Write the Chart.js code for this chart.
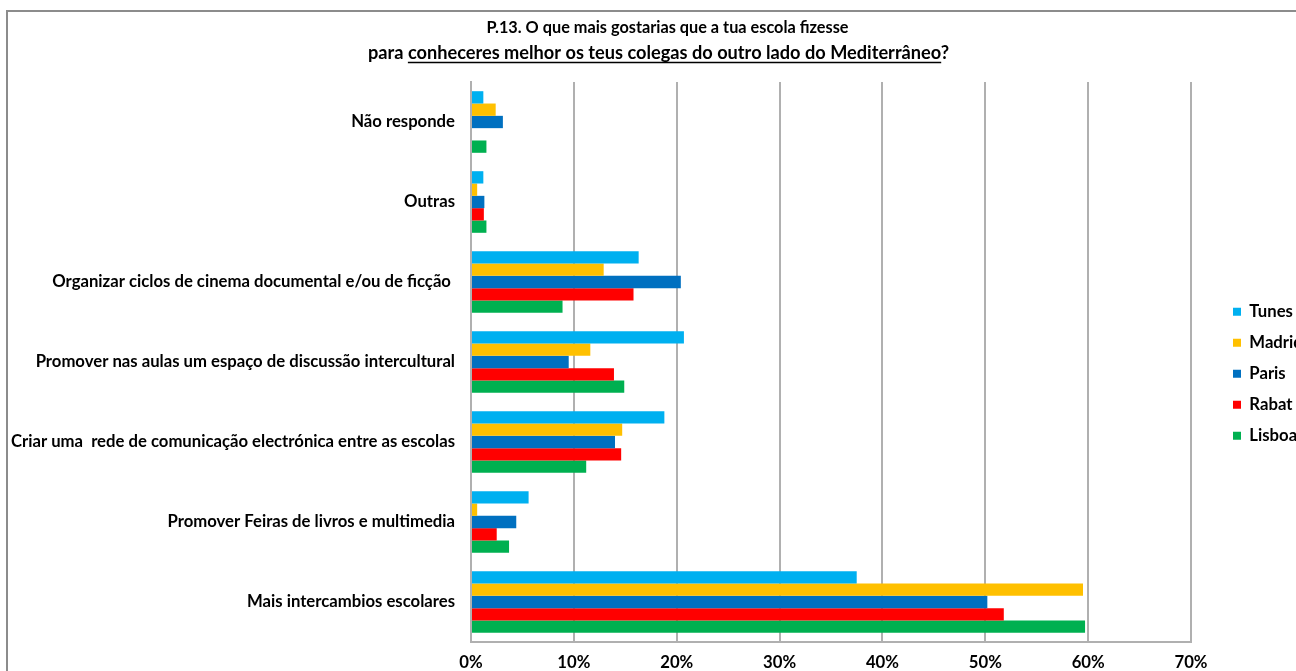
<!DOCTYPE html>
<html><head><meta charset="utf-8">
<script src="https://cdn.jsdelivr.net/npm/chart.js@4.4.1/dist/chart.umd.min.js"></script>
<style>
html,body{margin:0;padding:0;overflow:hidden;background:#fff;width:1296px;height:671px;}
#frame{position:absolute;left:6px;top:10px;width:1320px;height:680px;border:2px solid #8c8c8c;background:#fff;}
canvas{display:block;}
</style></head><body>
<div id="frame"><canvas id="c" width="1320" height="680"></canvas></div>
<script>
const categories = [
  'Não responde',
  'Outras',
  'Organizar ciclos de cinema documental e/ou de ficção ',
  'Promover nas aulas um espaço de discussão intercultural',
  'Criar uma  rede de comunicação electrónica entre as escolas',
  'Promover Feiras de livros e multimedia',
  'Mais intercambios escolares'
];
const seriesNames = ['Tunes', 'Madrid', 'Paris', 'Rabat', 'Lisboa'];
const seriesColors = ['#00B0F0', '#FFC000', '#0070C0', '#FF0000', '#00B050'];
const tunes  = [1.2, 1.2, 16.3, 20.7, 18.8, 5.6, 37.5];
const madrid = [2.4, 0.6, 12.9, 11.6, 14.7, 0.6, 59.5];
const paris  = [3.1, 1.3, 20.4, 9.5, 14.0, 4.4, 50.2];
const rabat  = [0, 1.25, 15.8, 13.9, 14.6, 2.5, 51.8];
const lisboa = [1.5, 1.5, 8.9, 14.9, 11.2, 3.7, 59.7];
const xTickValues = [0, 10, 20, 30, 40, 50, 60, 70];
const titleLine1 = 'P.13. O que mais gostarias que a tua escola fizesse';
const titlePre = 'para ';
const titleUnder = 'conheceres melhor os teus colegas do outro lado do Mediterrâneo';
const titlePost = '?';

const seriesValues = [tunes, madrid, paris, rabat, lisboa];
const FONT = 'Lato';
Chart.defaults.font.family = FONT;
Chart.defaults.color = '#000';

const TITLE_SIZE = 16.3, SUB_SIZE = 18.2, LH = 25;
const LBL_SIZE = 16.7, LEG_PAD = 14.3;

function subtitleBox(chart) {
  return chart.boxes.find(b => chart.titleBlock && b !== chart.titleBlock &&
    b.constructor === chart.titleBlock.constructor);
}

const placeBoxes = {
  id: 'placeBoxes',
  afterLayout(chart) {
    const lg = chart.legend;
    if (lg) {
      const w = lg.width, h = lg.height;
      lg.left = 1225 - LEG_PAD; lg.right = lg.left + w;
      lg.top = 299.7 - LBL_SIZE / 2 - LEG_PAD; lg.bottom = lg.top + h;
    }
    const t = chart.titleBlock;
    if (t) { t.left = 659.5 - 600; t.right = 659.5 + 600; }
    const s = subtitleBox(chart);
    if (s) { s.left = 650.5 - 600; s.right = 650.5 + 600; }
  }
};

const titleUnderline = {
  id: 'titleUnderline',
  afterDraw(chart) {
    const s = subtitleBox(chart);
    if (!s) return;
    const ctx = chart.ctx;
    ctx.save();
    ctx.font = 'bold ' + SUB_SIZE + 'px ' + FONT;
    const full = titlePre + titleUnder + titlePost;
    const cx = (s.left + s.right) / 2;
    const x0 = cx - ctx.measureText(full).width / 2;
    const xa = x0 + ctx.measureText(titlePre).width;
    const xb = xa + ctx.measureText(titleUnder).width;
    const y = s.top + LH / 2 + 9.5;
    ctx.strokeStyle = '#000';
    ctx.lineWidth = 1.4;
    ctx.beginPath();
    ctx.moveTo(xa, y); ctx.lineTo(xb, y);
    ctx.stroke();
    ctx.restore();
  }
};

new Chart(document.getElementById('c'), {
  type: 'bar',
  data: {
    labels: categories,
    datasets: seriesNames.map((n, i) => ({
      label: n,
      data: seriesValues[i],
      backgroundColor: seriesColors[i],
      borderWidth: 0,
      categoryPercentage: 0.77,
      barPercentage: 1.0
    }))
  },
  options: {
    indexAxis: 'y',
    responsive: false,
    animation: false,
    layout: { padding: { left: 0, right: 57, top: 0, bottom: 10 } },
    plugins: {
      tooltip: { enabled: false },
      title: {
        display: true,
        text: titleLine1,
        font: { size: TITLE_SIZE, weight: 'bold', lineHeight: LH + 'px' },
        color: '#000',
        padding: { top: 3.5, bottom: 0 }
      },
      subtitle: {
        display: true,
        text: titlePre + titleUnder + titlePost,
        font: { size: SUB_SIZE, weight: 'bold', lineHeight: LH + 'px' },
        color: '#000',
        padding: { top: 0, bottom: 16.5 }
      },
      legend: {
        display: true,
        position: 'right',
        align: 'start',
        maxWidth: 80,
        labels: {
          boxWidth: 8,
          boxHeight: 8,
          padding: LEG_PAD,
          color: '#000',
          font: { size: LBL_SIZE, weight: 'bold' }
        }
      }
    },
    scales: {
      x: {
        type: 'linear',
        min: 0,
        max: 70,
        afterFit: s => { s.height = 40; },
        afterBuildTicks: s => { s.ticks = xTickValues.map(v => ({ value: v })); },
        ticks: {
          stepSize: 10,
          padding: 10.5,
          font: { size: LBL_SIZE, weight: 'bold' },
          color: '#000',
          callback: v => v + '%'
        },
        grid: { display: true, color: '#b0b0b0', lineWidth: 2, drawTicks: false },
        border: { display: true, color: '#b0b0b0', width: 2 }
      },
      y: {
        type: 'category',
        afterFit: s => { s.width = 463; },
        ticks: {
          padding: 16,
          font: { size: LBL_SIZE, weight: 'bold' },
          color: '#000'
        },
        grid: { display: false, drawTicks: false },
        border: { display: true, color: '#b0b0b0', width: 2 }
      }
    }
  },
  plugins: [placeBoxes, titleUnderline]
});
</script>
</body></html>
